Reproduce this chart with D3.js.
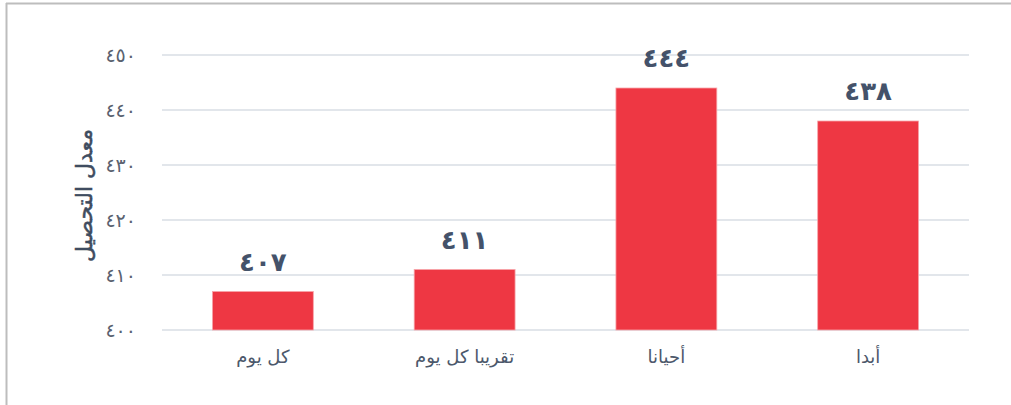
<!DOCTYPE html>
<html lang="ar">
<head>
<meta charset="utf-8">
<script src="https://cdn.jsdelivr.net/npm/d3@7"></script>
<style>
  html, body { margin: 0; padding: 0; background: #fff; }
  svg { display: block; font-family: "DejaVu Sans", "Noto Sans", sans-serif; }
</style>
</head>
<body>
<svg id="chart" width="1011" height="405"></svg>
<script>
// Average achievement by frequency category
const categories = ["كل يوم", "تقريبا كل يوم", "أحيانا", "أبدا"];
const scores = [407, 411, 444, 438];
const yTicks = [400, 410, 420, 430, 440, 450];
const axisTitle = "معدل التحصيل";

// Render numbers with Eastern Arabic digits
const arabicDigits = "٠١٢٣٤٥٦٧٨٩";
const toArabic = n => String(n).replace(/[0-9]/g, d => arabicDigits[+d]);

const svg = d3.select("#chart");
const margin = { left: 162, right: 42, top: 55, bottom: 75 };
const width = 1011, height = 405;

// Frame lines of the chart box
svg.append("line").attr("x1", 6).attr("x2", width).attr("y1", 3.5).attr("y2", 3.5)
  .attr("stroke", "#bdbdbd").attr("stroke-width", 2);
svg.append("line").attr("x1", 6.5).attr("x2", 6.5).attr("y1", 3).attr("y2", height)
  .attr("stroke", "#bdbdbd").attr("stroke-width", 2);

const x = d3.scaleBand()
  .domain(categories)
  .range([margin.left, width - margin.right])
  .paddingInner(0.5)
  .paddingOuter(0.25);

const y = d3.scaleLinear()
  .domain([400, 450])
  .range([height - margin.bottom, margin.top]);

// Horizontal gridlines
svg.append("g")
  .selectAll("line")
  .data(yTicks)
  .join("line")
  .attr("x1", margin.left)
  .attr("x2", width - margin.right)
  .attr("y1", d => y(d))
  .attr("y2", d => y(d))
  .attr("stroke", "#e2e6eb")
  .attr("stroke-width", 2);

// Y axis tick labels
const yAxis = d3.axisLeft(y)
  .tickValues(yTicks)
  .tickFormat(toArabic)
  .tickSize(0)
  .tickPadding(0);

svg.append("g")
  .attr("transform", `translate(${margin.left - 26},0)`)
  .call(yAxis)
  .call(g => g.select(".domain").remove())
  .call(g => g.selectAll("text")
    .attr("font-family", "DejaVu Sans, sans-serif")
    .attr("font-size", 19)
    .attr("fill", "#5a6270"));

// Bars
svg.append("g")
  .selectAll("rect")
  .data(scores)
  .join("rect")
  .attr("x", (d, i) => x(categories[i]))
  .attr("width", x.bandwidth())
  .attr("y", d => y(d))
  .attr("height", d => y(400) - y(d))
  .attr("fill", "#ee3743")
  .attr("stroke", "#f7a5aa")
  .attr("stroke-width", 0.8);

// Value labels above bars
svg.append("g")
  .selectAll("text")
  .data(scores)
  .join("text")
  .attr("x", (d, i) => x(categories[i]) + x.bandwidth() / 2)
  .attr("y", d => y(d) - 21)
  .attr("text-anchor", "middle")
  .attr("font-size", 26)
  .attr("font-weight", "bold")
  .attr("fill", "#44526a")
  .text(toArabic);

// Category labels
const xAxis = d3.axisBottom(x).tickSize(0).tickPadding(0);
svg.append("g")
  .attr("transform", `translate(0,${y(400) + 20})`)
  .call(xAxis)
  .call(g => g.select(".domain").remove())
  .call(g => g.selectAll("text")
    .attr("font-family", "DejaVu Sans, sans-serif")
    .attr("font-size", 18)
    .attr("direction", "rtl")
    .attr("fill", "#4c586b"));

// Y axis title
svg.append("text")
  .attr("transform", `translate(92,${(y(400) + y(450)) / 2 + 3}) rotate(-90)`)
  .attr("text-anchor", "middle")
  .attr("direction", "rtl")
  .attr("font-size", 22)
  .attr("fill", "#3f4c60")
  .attr("stroke", "#3f4c60")
  .attr("stroke-width", 0.5)
  .text(axisTitle);
</script>
</body>
</html>
